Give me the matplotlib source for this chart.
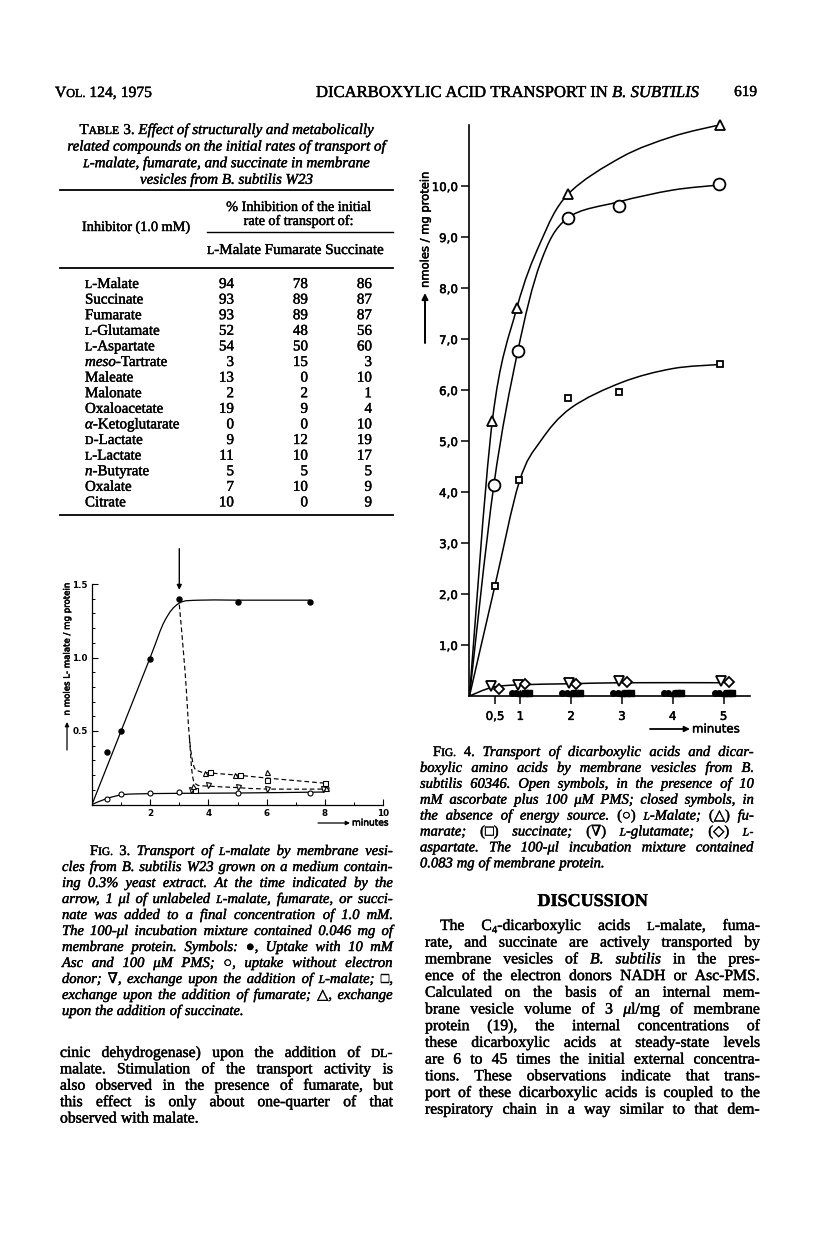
import re
import numpy as np
import matplotlib
matplotlib.use('Agg')
import matplotlib.pyplot as plt
import matplotlib.patheffects as pe
from matplotlib.path import Path
from matplotlib.patches import PathPatch, FancyArrowPatch
from matplotlib.lines import Line2D

# ---------------- data ----------------
# Table 3: % inhibition of the initial rate of transport
inhibitors = ['<s>L</s>-Malate', 'Succinate', 'Fumarate', '<s>L</s>-Glutamate',
              '<s>L</s>-Aspartate', '<i>meso</i>-Tartrate', 'Maleate', 'Malonate',
              'Oxaloacetate', '<i>α</i>-Ketoglutarate', '<s>D</s>-Lactate',
              '<s>L</s>-Lactate', '<i>n</i>-Butyrate', 'Oxalate', 'Citrate']
inhib_malate = [94, 93, 93, 52, 54, 3, 13, 2, 19, 0, 9, 11, 5, 7, 10]
inhib_fumarate = [78, 89, 89, 48, 50, 15, 0, 2, 9, 0, 12, 10, 5, 10, 0]
inhib_succinate = [86, 87, 87, 56, 60, 3, 10, 1, 4, 10, 19, 17, 5, 9, 9]

# Fig. 3 (minutes vs nmol L-malate / mg protein)
f3_asc_t = [0.5, 1, 2, 3, 5, 7.5]
f3_asc_v = [0.354, 0.498, 0.993, 1.395, 1.38, 1.38]
f3_none_t = [0.5, 1, 2, 3, 5, 7.5, 8.05]
f3_none_v = [0.04, 0.071, 0.076, 0.083, 0.076, 0.08, 0.11]
f3_malate_t = [3.4, 4.0, 5.0, 6.0, 7.95]
f3_malate_v = [0.10, 0.133, 0.12, 0.104, 0.104]
f3_fum_t = [3.55, 4.05, 5.08, 6.0, 8.0]
f3_fum_v = [0.10, 0.218, 0.20, 0.17, 0.144]
f3_succ_t = [3.48, 3.88, 4.92, 6.0, 8.05]
f3_succ_v = [0.128, 0.217, 0.20, 0.224, 0.115]
# hand-drawn curves of the original figure
f3_asc_fit_t = [0, 1, 2, 2.5, 3, 3.7, 5, 7.5]
f3_asc_fit_v = [0, 0.5, 1.0, 1.25, 1.37, 1.39, 1.39, 1.39]
f3_none_fit_t = [0, 0.5, 1, 1.5, 3, 5, 8]
f3_none_fit_v = [0, 0.04, 0.065, 0.072, 0.076, 0.078, 0.085]
f3_exch_hi_t = [3, 3.2, 3.35, 3.5, 3.7, 4, 5, 6, 8]
f3_exch_hi_v = [1.36, 0.9, 0.45, 0.26, 0.225, 0.215, 0.2, 0.18, 0.145]
f3_exch_lo_t = [3.35, 3.45, 3.6, 4, 5, 6, 8]
f3_exch_lo_v = [0.45, 0.2, 0.135, 0.125, 0.115, 0.105, 0.105]

# Fig. 4 (minutes vs nmol / mg protein)
f4_fum_t = [0.45, 0.93, 1.94, 4.93]
f4_fum_v = [5.4, 7.6, 9.84, 11.2]
f4_mal_t = [0.48, 0.95, 1.93, 2.94, 4.92]
f4_mal_v = [4.14, 6.76, 9.37, 9.61, 10.03]
f4_suc_t = [0.5, 0.98, 1.94, 2.95, 4.93]
f4_suc_v = [2.16, 4.24, 5.84, 5.97, 6.51]
f4_glu_t = [0.43, 0.95, 1.95, 2.94, 4.95]
f4_glu_v = [0.19, 0.21, 0.25, 0.29, 0.29]
f4_asp_t = [0.58, 1.1, 2.1, 3.1, 5.1]
f4_asp_v = [0.14, 0.23, 0.23, 0.27, 0.27]
f4_closed_t = [1, 2, 3, 4, 5]
f4_closed_v = [0.05, 0.05, 0.05, 0.05, 0.05]
f4_fum_fit_t = [0, 0.45, 0.93, 1.4, 1.94, 3.0, 4.0, 4.93]
f4_fum_fit_v = [0, 5.4, 7.6, 8.9, 9.84, 10.57, 10.97, 11.2]
f4_mal_fit_t = [0, 0.48, 0.95, 1.4, 1.93, 2.94, 4.0, 4.92]
f4_mal_fit_v = [0, 4.14, 6.76, 8.5, 9.37, 9.69, 9.92, 10.02]
f4_suc_fit_t = [0, 0.5, 0.98, 1.4, 2.0, 3.0, 4.0, 4.93]
f4_suc_fit_v = [0, 2.16, 4.2, 5.0, 5.65, 6.15, 6.42, 6.5]
f4_low_fit_t = [0, 0.45, 1.0, 2.0, 3.0, 5.0]
f4_low_fit_v = [0, 0.17, 0.22, 0.24, 0.26, 0.26]

# ---------------- page setup ----------------
W, H = 816, 1235
fig = plt.figure(figsize=(W / 100, H / 100), dpi=100)
renderer = fig.canvas.get_renderer()
SERIF = ['Liberation Serif', 'DejaVu Serif', 'DejaVu Sans']
SANS = ['DejaVu Sans']
INK = [pe.withStroke(linewidth=0.3, foreground='black')]
INK_SANS = [pe.withStroke(linewidth=0.35, foreground='black')]
TAG = re.compile(r'(</?(?:i|s|b|sub)>)')


def parse(markup):
    st = {'i': False, 's': False, 'b': False, 'sub': False}
    words = [[]]
    for part in TAG.split(markup):
        if not part:
            continue
        m = re.fullmatch(r'<(/?)(i|s|b|sub)>', part)
        if m:
            st[m.group(2)] = not m.group(1)
            continue
        for k, p in enumerate(part.split(' ')):
            if k > 0:
                words.append([])
            if p:
                words[-1].append((p, dict(st)))
    return [w for w in words if w]


def run_text(x, y, s, st, size):
    fs = size * (0.78 if st['s'] else 0.68 if st['sub'] else 1.0)
    dy = 3 if st['sub'] else 0
    return fig.text(x / W, 1 - (y + dy) / H, s, fontsize=fs, family=SERIF,
                    style='italic' if st['i'] else 'normal',
                    weight='bold' if st['b'] else 'normal',
                    ha='left', va='baseline', color='black', path_effects=INK)


def width(s, st, size):
    t = run_text(0, 0, s, st, size)
    w = t.get_window_extent(renderer).width
    t.remove()
    return w


def natural(words, size):
    ws = sum(width(s, st, size) for w in words for s, st in w)
    return ws + 0.25 * size * 1.389 * (len(words) - 1)


def put(words, x0, x1, y, size, mode):
    objs = []
    for w in words:
        runs = []
        for s, st in w:
            t = run_text(0, y, s, st, size)
            runs.append((t, t.get_window_extent(renderer).width))
        objs.append(runs)
    widths = [sum(r[1] for r in runs) for runs in objs]
    total = sum(widths)
    n = len(objs)
    gap = size * 1.389 * 0.25
    if mode == 'justify' and n > 1:
        gap = (x1 - x0 - total) / (n - 1)
    span = total + gap * (n - 1)
    x = x0
    if mode == 'center':
        x = (x0 + x1) / 2 - span / 2
    elif mode == 'right':
        x = x1 - span
    for runs, w in zip(objs, widths):
        xx = x
        for t, tw in runs:
            t.set_x(xx / W)
            xx += tw
        x += w + gap


def fill(markup, x0, x1, y, size):
    # scale the font so the line spans x0..x1 with natural spacing
    words = parse(markup)
    size *= (x1 - x0) / natural(words, size)
    put(words, x0, x1, y, size, 'justify')


def block(lines, x0, x1, y0, dy, size, indent=0, align='justify', last_left=True):
    parsed = [parse(s) for s in lines]
    fit = 1.0
    for k, words in enumerate(parsed):
        avail = x1 - x0 - (indent if k == 0 else 0)
        fit = min(fit, avail / natural(words, size))
    size *= fit
    for k, words in enumerate(parsed):
        mode = align
        if align == 'justify' and last_left and k == len(parsed) - 1:
            mode = 'left'
        put(words, x0 + (indent if k == 0 else 0), x1, y0 + k * dy, size, mode)


def hrule(x0, x1, y, lw=1.0):
    fig.add_artist(Line2D([x0 / W, x1 / W], [1 - y / H] * 2,
                          transform=fig.transFigure, color='black', lw=lw))


def farrow(x0, y0, x1, y1, ms=7, lw=1.0):
    fig.add_artist(FancyArrowPatch((x0 / W, 1 - y0 / H), (x1 / W, 1 - y1 / H),
                                   transform=fig.transFigure, arrowstyle='-|>',
                                   mutation_scale=ms, lw=lw, color='black',
                                   shrinkA=0, shrinkB=0))


def add_ax(left, right, top, bottom):
    return fig.add_axes([left / W, 1 - bottom / H, (right - left) / W, (bottom - top) / H])


def smooth(ax, xs, ys, **kw):
    # Catmull-Rom knots turned into cubic Bezier segments
    pts = np.column_stack([xs, ys]).astype(float)
    ext = np.vstack([pts[0], pts, pts[-1]])
    verts = [pts[0]]
    codes = [Path.MOVETO]
    for i in range(len(pts) - 1):
        p0, p1, p2, p3 = ext[i], ext[i + 1], ext[i + 2], ext[i + 3]
        verts += [p1 + (p2 - p0) / 6, p2 - (p3 - p1) / 6, p2]
        codes += [Path.CURVE4] * 3
    ax.add_patch(PathPatch(Path(verts, codes), fill=False, color='black', **kw))


# ---------------- running head ----------------
fill('V<s>OL.</s> 124, 1975', 55, 152, 97, 10)
fill('DICARBOXYLIC ACID TRANSPORT IN <i>B. SUBTILIS</i>', 316, 699, 97, 10)
put(parse('619'), 700, 757, 96, 11, 'right')

# ---------------- Table 3 ----------------
block(['T<s>ABLE</s> 3. <i>Effect of structurally and metabolically</i>',
       '<i>related compounds on the initial rates of transport of</i>',
       '<i><s>L</s>-malate, fumarate, and succinate in membrane</i>',
       '<i>vesicles from B. subtilis W23</i>'],
      60, 393, 134, 16.6, 10.8, align='center')
hrule(60, 393, 190, 1.3)
put(parse('% Inhibition of the initial'), 207, 390, 211, 10.3, 'center')
put(parse('rate of transport of:'), 207, 390, 225, 10.3, 'center')
put(parse('Inhibitor (1.0 mM)'), 82, 200, 231, 10.3, 'left')
hrule(207, 393, 232, 1.0)
fill('<s>L</s>-Malate Fumarate Succinate', 207, 384, 254, 10)
hrule(60, 393, 268, 1.3)
for k, name in enumerate(inhibitors):
    yb = 288 + 15.6 * k
    put(parse(name), 85, 200, yb, 10.8, 'left')
    for xr, vals in ((234, inhib_malate), (308, inhib_fumarate), (372, inhib_succinate)):
        fig.text(xr / W, 1 - yb / H, str(vals[k]), fontsize=10.8, family=SERIF,
                 ha='right', va='baseline', path_effects=INK)
hrule(60, 393, 515, 1.3)

# ---------------- Fig. 3 ----------------
ax3 = add_ax(92, 383, 584, 804.5)
ax3.set_xlim(0, 10)
ax3.set_ylim(0, 1.5)
for sp in ('top', 'right'):
    ax3.spines[sp].set_visible(False)
for sp in ('left', 'bottom'):
    ax3.spines[sp].set_linewidth(0.9)
ax3.set_xticks([2, 4, 6, 8, 10])
ax3.set_xticks(np.arange(1, 10, 1), minor=True)
ax3.set_yticks([0.5, 1.0, 1.5])
ax3.set_yticklabels(['0.5', '1.0', '1.5'])
ax3.set_yticks(np.arange(0.1, 1.5, 0.1), minor=True)
ax3.tick_params(which='major', direction='in', length=4, width=0.8, pad=3,
                labelsize=6.3, labelfontfamily='DejaVu Sans')
ax3.tick_params(which='minor', direction='in', length=2, width=0.7)
for lab in ax3.get_xticklabels() + ax3.get_yticklabels():
    lab.set_fontweight('bold')
ax3.patch.set_alpha(0)

smooth(ax3, f3_asc_fit_t, f3_asc_fit_v, lw=0.9)
smooth(ax3, f3_none_fit_t, f3_none_fit_v, lw=0.9)
smooth(ax3, f3_exch_hi_t, f3_exch_hi_v, lw=0.85, linestyle=(0, (4, 2.5)))
smooth(ax3, f3_exch_lo_t, f3_exch_lo_v, lw=0.85, linestyle=(0, (4, 2.5)))
mk = dict(color='black', linestyle='none', markersize=3.6, clip_on=False, zorder=3)
ax3.plot(f3_asc_t, f3_asc_v, marker='o', **mk)
ax3.plot(f3_none_t, f3_none_v, marker='o', markerfacecolor='white', markeredgewidth=0.8, **mk)
ax3.plot(f3_malate_t, f3_malate_v, marker='v', markerfacecolor='white', markeredgewidth=0.8, **mk)
ax3.plot(f3_fum_t, f3_fum_v, marker='s', markerfacecolor='white', markeredgewidth=0.8, **mk)
ax3.plot(f3_succ_t, f3_succ_v, marker='^', markerfacecolor='white', markeredgewidth=0.8, **mk)
ax3.annotate('', xy=(3, 1.46), xytext=(3, 1.74), annotation_clip=False,
             arrowprops=dict(arrowstyle='-|>', lw=1.0, color='black',
                             mutation_scale=7, shrinkA=0, shrinkB=0))
fig.text(67 / W, 1 - 649 / H, 'n moles L- malate / mg protein', rotation=90,
         fontsize=6.2, family=SANS, ha='center', va='center', path_effects=INK_SANS)
farrow(67, 750, 67, 722, ms=6, lw=0.9)
farrow(318, 823, 350, 823, ms=6, lw=0.9)
fig.text(352 / W, 1 - 823 / H, 'minutes', fontsize=6.5, family=SANS,
         ha='left', va='center', path_effects=INK_SANS)

# ---------------- Fig. 4 ----------------
ax4 = add_ax(469.5, 750, 125, 696)
ax4.set_xlim(0, (750 - 469.5) / 50.8)
ax4.set_ylim(0, (696 - 125) / 51.0)
for sp in ('top', 'right'):
    ax4.spines[sp].set_visible(False)
for sp in ('left', 'bottom'):
    ax4.spines[sp].set_linewidth(1.2)
ax4.set_yticks(np.arange(1, 11))
ax4.set_yticklabels(['%d,0' % v for v in range(1, 11)])
ax4.set_xticks([0.5, 1, 2, 3, 4, 5])
ax4.set_xticklabels(['0,5', '1', '2', '3', '4', '5'])
ax4.tick_params(direction='out', length=6, width=1.1, pad=2.5, labelsize=8.5,
                labelfontfamily='DejaVu Sans')
ax4.tick_params(axis='x', pad=4)
for lab in ax4.get_xticklabels() + ax4.get_yticklabels():
    lab.set_path_effects(INK_SANS)
ax4.patch.set_alpha(0)

smooth(ax4, f4_fum_fit_t, f4_fum_fit_v, lw=1.1)
smooth(ax4, f4_mal_fit_t, f4_mal_fit_v, lw=1.1)
smooth(ax4, f4_suc_fit_t, f4_suc_fit_v, lw=1.1)
smooth(ax4, f4_low_fit_t, f4_low_fit_v, lw=1.1)
ob = dict(color='black', linestyle='none', markerfacecolor='white',
          markeredgewidth=1.3, clip_on=False, zorder=3)
ax4.plot(f4_fum_t, f4_fum_v, marker='^', markersize=6.5, **ob)
ax4.plot(f4_mal_t, f4_mal_v, marker='o', markersize=8.5, **ob)
ax4.plot(f4_suc_t, f4_suc_v, marker='s', markersize=5, **ob)
ax4.plot(f4_glu_t, f4_glu_v, marker='v', markersize=6.5, **ob)
ax4.plot(f4_asp_t, f4_asp_v, marker='D', markersize=5, **ob)
cl = dict(color='black', linestyle='none', markersize=4.0, clip_on=False, zorder=3)
for off, m in ((-0.17, 'o'), (-0.085, 'o'), (0.0, '^'), (0.085, 's'), (0.17, 's')):
    ax4.plot(np.array(f4_closed_t) + off, f4_closed_v, marker=m, **cl)
fig.text(425 / W, 1 - 230 / H, 'nmoles / mg protein', rotation=90, fontsize=8.3,
         family=SANS, ha='center', va='center', path_effects=INK_SANS)
farrow(425, 343, 425, 293, ms=9, lw=1.4)
farrow(650, 729, 690, 729, ms=8, lw=1.3)
fig.text(692 / W, 1 - 729 / H, 'minutes', fontsize=8.5, family=SANS,
         ha='left', va='center', path_effects=INK_SANS)

# ---------------- captions and body text ----------------
block(['F<s>IG.</s> 3. <i>Transport of <s>L</s>-malate by membrane vesi-</i>',
       '<i>cles from B. subtilis W23 grown on a medium contain-</i>',
       '<i>ing 0.3% yeast extract. At the time indicated by the</i>',
       '<i>arrow, 1 μl of unlabeled <s>L</s>-malate, fumarate, or succi-</i>',
       '<i>nate was added to a final concentration of 1.0 mM.</i>',
       '<i>The 100-μl incubation mixture contained 0.046 mg of</i>',
       '<i>membrane protein. Symbols:</i> ●<i>, Uptake with 10 mM</i>',
       '<i>Asc and 100 μM PMS;</i> ○<i>, uptake without electron</i>',
       '<i>donor;</i> ∇<i>, exchange upon the addition of <s>L</s>-malate;</i> □<i>,</i>',
       '<i>exchange upon the addition of fumarate;</i> △<i>, exchange</i>',
       '<i>upon the addition of succinate.</i>'],
      62, 393, 855, 16.0, 10.5, indent=28)

block(['cinic dehydrogenase) upon the addition of <s>DL</s>-',
       'malate. Stimulation of the transport activity is',
       'also observed in the presence of fumarate, but',
       'this effect is only about one-quarter of that',
       'observed with malate.'],
      60, 393, 1057, 16.4, 11.3)

block(['F<s>IG.</s> 4. <i>Transport of dicarboxylic acids and dicar-</i>',
       '<i>boxylic amino acids by membrane vesicles from B.</i>',
       '<i>subtilis 60346. Open symbols, in the presence of 10</i>',
       '<i>mM ascorbate plus 100 μM PMS; closed symbols, in</i>',
       '<i>the absence of energy source.</i> (○) <i><s>L</s>-Malate;</i> (△) <i>fu-</i>',
       '<i>marate;</i> (□) <i>succinate;</i> (∇) <i><s>L</s>-glutamate;</i> (◇) <i><s>L</s>-</i>',
       '<i>aspartate. The 100-μl incubation mixture contained</i>',
       '<i>0.083 mg of membrane protein.</i>'],
      420, 754, 756, 15.9, 10.5, indent=13)

put(parse('<b>DISCUSSION</b>'), 425, 760, 906, 13, 'center')

block(['The C<sub>4</sub>-dicarboxylic acids <s>L</s>-malate, fuma-',
       'rate, and succinate are actively transported by',
       'membrane vesicles of <i>B. subtilis</i> in the pres-',
       'ence of the electron donors NADH or Asc-PMS.',
       'Calculated on the basis of an internal mem-',
       'brane vesicle volume of 3 <i>μ</i>l/mg of membrane',
       'protein (19), the internal concentrations of',
       'these dicarboxylic acids at steady-state levels',
       'are 6 to 45 times the initial external concentra-',
       'tions. These observations indicate that trans-',
       'port of these dicarboxylic acids is coupled to the',
       'respiratory chain in a way similar to that dem-'],
      425, 760, 930, 16.7, 11.3, indent=15, last_left=False)

fig.savefig('out.png', dpi=100)
